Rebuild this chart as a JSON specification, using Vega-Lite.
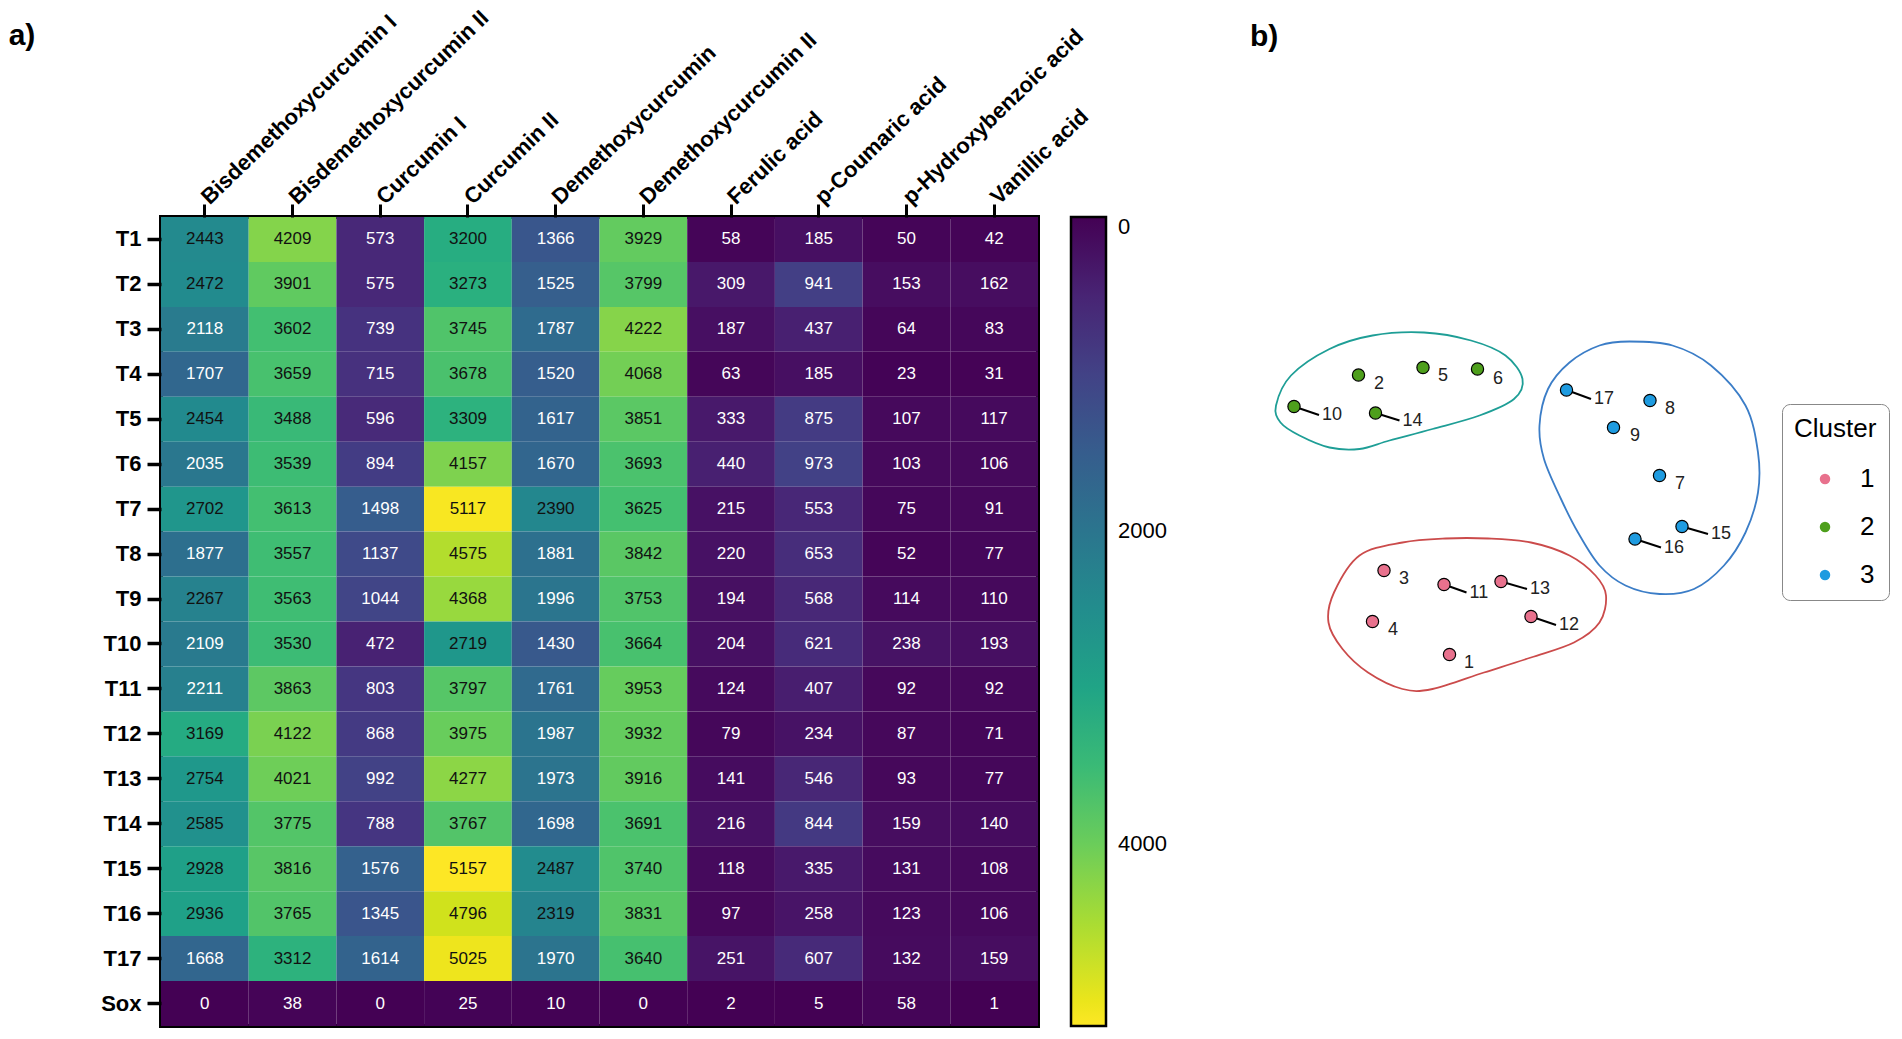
{
  "$schema": "https://vega.github.io/schema/vega-lite/v6.json",
  "padding": {"left": 6, "top": 4, "right": 0, "bottom": 0},
  "background": "white",
  "spacing": 32,
  "config": {"font": "Liberation Sans", "view": {"stroke": null}},
  "resolve": {"scale": {"color": "independent", "fill": "independent", "stroke": "independent"}, "legend": {"color": "independent", "fill": "independent", "stroke": "independent"}},
  "hconcat": [
    {
      "width": 877,
      "height": 809,
      "title": {"text": "a)", "anchor": "start", "frame": "bounds", "fontSize": 30, "fontWeight": "bold", "color": "black", "dx": -92, "dy": 45, "offset": 0},
      "view": {"stroke": "black", "strokeWidth": 4},
      "data": {"values": [
        {"sample":"T1","compound":"Bisdemethoxycurcumin I","value":2443},{"sample":"T1","compound":"Bisdemethoxycurcumin II","value":4209},{"sample":"T1","compound":"Curcumin I","value":573},{"sample":"T1","compound":"Curcumin II","value":3200},{"sample":"T1","compound":"Demethoxycurcumin","value":1366},{"sample":"T1","compound":"Demethoxycurcumin II","value":3929},{"sample":"T1","compound":"Ferulic acid","value":58},{"sample":"T1","compound":"p-Coumaric acid","value":185},{"sample":"T1","compound":"p-Hydroxybenzoic acid","value":50},{"sample":"T1","compound":"Vanillic acid","value":42},
        {"sample":"T2","compound":"Bisdemethoxycurcumin I","value":2472},{"sample":"T2","compound":"Bisdemethoxycurcumin II","value":3901},{"sample":"T2","compound":"Curcumin I","value":575},{"sample":"T2","compound":"Curcumin II","value":3273},{"sample":"T2","compound":"Demethoxycurcumin","value":1525},{"sample":"T2","compound":"Demethoxycurcumin II","value":3799},{"sample":"T2","compound":"Ferulic acid","value":309},{"sample":"T2","compound":"p-Coumaric acid","value":941},{"sample":"T2","compound":"p-Hydroxybenzoic acid","value":153},{"sample":"T2","compound":"Vanillic acid","value":162},
        {"sample":"T3","compound":"Bisdemethoxycurcumin I","value":2118},{"sample":"T3","compound":"Bisdemethoxycurcumin II","value":3602},{"sample":"T3","compound":"Curcumin I","value":739},{"sample":"T3","compound":"Curcumin II","value":3745},{"sample":"T3","compound":"Demethoxycurcumin","value":1787},{"sample":"T3","compound":"Demethoxycurcumin II","value":4222},{"sample":"T3","compound":"Ferulic acid","value":187},{"sample":"T3","compound":"p-Coumaric acid","value":437},{"sample":"T3","compound":"p-Hydroxybenzoic acid","value":64},{"sample":"T3","compound":"Vanillic acid","value":83},
        {"sample":"T4","compound":"Bisdemethoxycurcumin I","value":1707},{"sample":"T4","compound":"Bisdemethoxycurcumin II","value":3659},{"sample":"T4","compound":"Curcumin I","value":715},{"sample":"T4","compound":"Curcumin II","value":3678},{"sample":"T4","compound":"Demethoxycurcumin","value":1520},{"sample":"T4","compound":"Demethoxycurcumin II","value":4068},{"sample":"T4","compound":"Ferulic acid","value":63},{"sample":"T4","compound":"p-Coumaric acid","value":185},{"sample":"T4","compound":"p-Hydroxybenzoic acid","value":23},{"sample":"T4","compound":"Vanillic acid","value":31},
        {"sample":"T5","compound":"Bisdemethoxycurcumin I","value":2454},{"sample":"T5","compound":"Bisdemethoxycurcumin II","value":3488},{"sample":"T5","compound":"Curcumin I","value":596},{"sample":"T5","compound":"Curcumin II","value":3309},{"sample":"T5","compound":"Demethoxycurcumin","value":1617},{"sample":"T5","compound":"Demethoxycurcumin II","value":3851},{"sample":"T5","compound":"Ferulic acid","value":333},{"sample":"T5","compound":"p-Coumaric acid","value":875},{"sample":"T5","compound":"p-Hydroxybenzoic acid","value":107},{"sample":"T5","compound":"Vanillic acid","value":117},
        {"sample":"T6","compound":"Bisdemethoxycurcumin I","value":2035},{"sample":"T6","compound":"Bisdemethoxycurcumin II","value":3539},{"sample":"T6","compound":"Curcumin I","value":894},{"sample":"T6","compound":"Curcumin II","value":4157},{"sample":"T6","compound":"Demethoxycurcumin","value":1670},{"sample":"T6","compound":"Demethoxycurcumin II","value":3693},{"sample":"T6","compound":"Ferulic acid","value":440},{"sample":"T6","compound":"p-Coumaric acid","value":973},{"sample":"T6","compound":"p-Hydroxybenzoic acid","value":103},{"sample":"T6","compound":"Vanillic acid","value":106},
        {"sample":"T7","compound":"Bisdemethoxycurcumin I","value":2702},{"sample":"T7","compound":"Bisdemethoxycurcumin II","value":3613},{"sample":"T7","compound":"Curcumin I","value":1498},{"sample":"T7","compound":"Curcumin II","value":5117},{"sample":"T7","compound":"Demethoxycurcumin","value":2390},{"sample":"T7","compound":"Demethoxycurcumin II","value":3625},{"sample":"T7","compound":"Ferulic acid","value":215},{"sample":"T7","compound":"p-Coumaric acid","value":553},{"sample":"T7","compound":"p-Hydroxybenzoic acid","value":75},{"sample":"T7","compound":"Vanillic acid","value":91},
        {"sample":"T8","compound":"Bisdemethoxycurcumin I","value":1877},{"sample":"T8","compound":"Bisdemethoxycurcumin II","value":3557},{"sample":"T8","compound":"Curcumin I","value":1137},{"sample":"T8","compound":"Curcumin II","value":4575},{"sample":"T8","compound":"Demethoxycurcumin","value":1881},{"sample":"T8","compound":"Demethoxycurcumin II","value":3842},{"sample":"T8","compound":"Ferulic acid","value":220},{"sample":"T8","compound":"p-Coumaric acid","value":653},{"sample":"T8","compound":"p-Hydroxybenzoic acid","value":52},{"sample":"T8","compound":"Vanillic acid","value":77},
        {"sample":"T9","compound":"Bisdemethoxycurcumin I","value":2267},{"sample":"T9","compound":"Bisdemethoxycurcumin II","value":3563},{"sample":"T9","compound":"Curcumin I","value":1044},{"sample":"T9","compound":"Curcumin II","value":4368},{"sample":"T9","compound":"Demethoxycurcumin","value":1996},{"sample":"T9","compound":"Demethoxycurcumin II","value":3753},{"sample":"T9","compound":"Ferulic acid","value":194},{"sample":"T9","compound":"p-Coumaric acid","value":568},{"sample":"T9","compound":"p-Hydroxybenzoic acid","value":114},{"sample":"T9","compound":"Vanillic acid","value":110},
        {"sample":"T10","compound":"Bisdemethoxycurcumin I","value":2109},{"sample":"T10","compound":"Bisdemethoxycurcumin II","value":3530},{"sample":"T10","compound":"Curcumin I","value":472},{"sample":"T10","compound":"Curcumin II","value":2719},{"sample":"T10","compound":"Demethoxycurcumin","value":1430},{"sample":"T10","compound":"Demethoxycurcumin II","value":3664},{"sample":"T10","compound":"Ferulic acid","value":204},{"sample":"T10","compound":"p-Coumaric acid","value":621},{"sample":"T10","compound":"p-Hydroxybenzoic acid","value":238},{"sample":"T10","compound":"Vanillic acid","value":193},
        {"sample":"T11","compound":"Bisdemethoxycurcumin I","value":2211},{"sample":"T11","compound":"Bisdemethoxycurcumin II","value":3863},{"sample":"T11","compound":"Curcumin I","value":803},{"sample":"T11","compound":"Curcumin II","value":3797},{"sample":"T11","compound":"Demethoxycurcumin","value":1761},{"sample":"T11","compound":"Demethoxycurcumin II","value":3953},{"sample":"T11","compound":"Ferulic acid","value":124},{"sample":"T11","compound":"p-Coumaric acid","value":407},{"sample":"T11","compound":"p-Hydroxybenzoic acid","value":92},{"sample":"T11","compound":"Vanillic acid","value":92},
        {"sample":"T12","compound":"Bisdemethoxycurcumin I","value":3169},{"sample":"T12","compound":"Bisdemethoxycurcumin II","value":4122},{"sample":"T12","compound":"Curcumin I","value":868},{"sample":"T12","compound":"Curcumin II","value":3975},{"sample":"T12","compound":"Demethoxycurcumin","value":1987},{"sample":"T12","compound":"Demethoxycurcumin II","value":3932},{"sample":"T12","compound":"Ferulic acid","value":79},{"sample":"T12","compound":"p-Coumaric acid","value":234},{"sample":"T12","compound":"p-Hydroxybenzoic acid","value":87},{"sample":"T12","compound":"Vanillic acid","value":71},
        {"sample":"T13","compound":"Bisdemethoxycurcumin I","value":2754},{"sample":"T13","compound":"Bisdemethoxycurcumin II","value":4021},{"sample":"T13","compound":"Curcumin I","value":992},{"sample":"T13","compound":"Curcumin II","value":4277},{"sample":"T13","compound":"Demethoxycurcumin","value":1973},{"sample":"T13","compound":"Demethoxycurcumin II","value":3916},{"sample":"T13","compound":"Ferulic acid","value":141},{"sample":"T13","compound":"p-Coumaric acid","value":546},{"sample":"T13","compound":"p-Hydroxybenzoic acid","value":93},{"sample":"T13","compound":"Vanillic acid","value":77},
        {"sample":"T14","compound":"Bisdemethoxycurcumin I","value":2585},{"sample":"T14","compound":"Bisdemethoxycurcumin II","value":3775},{"sample":"T14","compound":"Curcumin I","value":788},{"sample":"T14","compound":"Curcumin II","value":3767},{"sample":"T14","compound":"Demethoxycurcumin","value":1698},{"sample":"T14","compound":"Demethoxycurcumin II","value":3691},{"sample":"T14","compound":"Ferulic acid","value":216},{"sample":"T14","compound":"p-Coumaric acid","value":844},{"sample":"T14","compound":"p-Hydroxybenzoic acid","value":159},{"sample":"T14","compound":"Vanillic acid","value":140},
        {"sample":"T15","compound":"Bisdemethoxycurcumin I","value":2928},{"sample":"T15","compound":"Bisdemethoxycurcumin II","value":3816},{"sample":"T15","compound":"Curcumin I","value":1576},{"sample":"T15","compound":"Curcumin II","value":5157},{"sample":"T15","compound":"Demethoxycurcumin","value":2487},{"sample":"T15","compound":"Demethoxycurcumin II","value":3740},{"sample":"T15","compound":"Ferulic acid","value":118},{"sample":"T15","compound":"p-Coumaric acid","value":335},{"sample":"T15","compound":"p-Hydroxybenzoic acid","value":131},{"sample":"T15","compound":"Vanillic acid","value":108},
        {"sample":"T16","compound":"Bisdemethoxycurcumin I","value":2936},{"sample":"T16","compound":"Bisdemethoxycurcumin II","value":3765},{"sample":"T16","compound":"Curcumin I","value":1345},{"sample":"T16","compound":"Curcumin II","value":4796},{"sample":"T16","compound":"Demethoxycurcumin","value":2319},{"sample":"T16","compound":"Demethoxycurcumin II","value":3831},{"sample":"T16","compound":"Ferulic acid","value":97},{"sample":"T16","compound":"p-Coumaric acid","value":258},{"sample":"T16","compound":"p-Hydroxybenzoic acid","value":123},{"sample":"T16","compound":"Vanillic acid","value":106},
        {"sample":"T17","compound":"Bisdemethoxycurcumin I","value":1668},{"sample":"T17","compound":"Bisdemethoxycurcumin II","value":3312},{"sample":"T17","compound":"Curcumin I","value":1614},{"sample":"T17","compound":"Curcumin II","value":5025},{"sample":"T17","compound":"Demethoxycurcumin","value":1970},{"sample":"T17","compound":"Demethoxycurcumin II","value":3640},{"sample":"T17","compound":"Ferulic acid","value":251},{"sample":"T17","compound":"p-Coumaric acid","value":607},{"sample":"T17","compound":"p-Hydroxybenzoic acid","value":132},{"sample":"T17","compound":"Vanillic acid","value":159},
        {"sample":"Sox","compound":"Bisdemethoxycurcumin I","value":0},{"sample":"Sox","compound":"Bisdemethoxycurcumin II","value":38},{"sample":"Sox","compound":"Curcumin I","value":0},{"sample":"Sox","compound":"Curcumin II","value":25},{"sample":"Sox","compound":"Demethoxycurcumin","value":10},{"sample":"Sox","compound":"Demethoxycurcumin II","value":0},{"sample":"Sox","compound":"Ferulic acid","value":2},{"sample":"Sox","compound":"p-Coumaric acid","value":5},{"sample":"Sox","compound":"p-Hydroxybenzoic acid","value":58},{"sample":"Sox","compound":"Vanillic acid","value":1}
      ]},
      "encoding": {
        "x": {"field": "compound", "type": "nominal", "sort": null, "title": null,
          "axis": {"orient": "top", "labelAngle": -44, "labelAlign": "left", "labelBaseline": "middle", "labelFontSize": 22, "labelFontWeight": "bold", "labelColor": "black", "labelPadding": 4, "tickSize": 13, "tickWidth": 3, "tickColor": "black", "domain": false, "labelLimit": 400}},
        "y": {"field": "sample", "type": "nominal", "sort": null, "title": null,
          "axis": {"labelFontSize": 22, "labelFontWeight": "bold", "labelColor": "black", "labelPadding": 6, "tickSize": 14, "tickWidth": 3.5, "tickColor": "black", "domain": false}}
      },
      "layer": [
        {"mark": {"type": "rect"},
         "encoding": {"color": {"field": "value", "type": "quantitative",
           "scale": {"scheme": "viridis", "domain": [5157, 0], "reverse": true, "nice": false},
           "legend": {"title": null, "orient": "right", "offset": 33, "direction": "vertical", "gradientLength": 809, "gradientThickness": 35, "gradientStrokeColor": "black", "gradientStrokeWidth": 2.5, "values": [0, 2000, 4000], "format": "d", "labelFontSize": 22, "labelColor": "black", "labelOffset": 12, "labelBaseline": "middle", "labelOverlap": false}}}},
        {"mark": {"type": "text", "fontSize": 17},
         "encoding": {"text": {"field": "value", "type": "quantitative", "format": "d"},
           "color": {"condition": {"test": "datum.value >= 2240", "value": "#111111"}, "value": "white"}}}
      ]
    },
    {
      "width": 560,
      "height": 809,
      "title": {"text": "b)", "anchor": "start", "frame": "group", "fontSize": 30, "fontWeight": "bold", "color": "black", "dx": 49, "dy": -165, "offset": 0},
      "layer": [
        {
          "data": {"values": [
            {"hull":"H2","k":1,"hx":-4.50,"hy":1.87},{"hull":"H2","k":2,"hx":-4.20,"hy":2.47},{"hull":"H2","k":3,"hx":-3.43,"hy":3.00},{"hull":"H2","k":4,"hx":-2.57,"hy":3.27},{"hull":"H2","k":5,"hx":-1.54,"hy":3.33},{"hull":"H2","k":6,"hx":-0.60,"hy":3.17},{"hull":"H2","k":7,"hx":0.09,"hy":2.87},{"hull":"H2","k":8,"hx":0.43,"hy":2.40},{"hull":"H2","k":9,"hx":0.26,"hy":2.00},{"hull":"H2","k":10,"hx":-0.43,"hy":1.67},{"hull":"H2","k":11,"hx":-1.37,"hy":1.40},{"hull":"H2","k":12,"hx":-2.23,"hy":1.17},{"hull":"H2","k":13,"hx":-2.83,"hy":1.00},{"hull":"H2","k":14,"hx":-3.43,"hy":1.03},{"hull":"H2","k":15,"hx":-4.03,"hy":1.27},{"hull":"H2","k":16,"hx":-4.41,"hy":1.53},
            {"hull":"H3","k":1,"hx":2.57,"hy":3.15},{"hull":"H3","k":2,"hx":3.43,"hy":3.07},{"hull":"H3","k":3,"hx":4.20,"hy":2.67},{"hull":"H3","k":4,"hx":4.89,"hy":1.87},{"hull":"H3","k":5,"hx":5.14,"hy":0.93},{"hull":"H3","k":6,"hx":5.14,"hy":0.13},{"hull":"H3","k":7,"hx":4.89,"hy":-0.67},{"hull":"H3","k":8,"hx":4.46,"hy":-1.33},{"hull":"H3","k":9,"hx":3.86,"hy":-1.80},{"hull":"H3","k":10,"hx":3.17,"hy":-1.90},{"hull":"H3","k":11,"hx":2.49,"hy":-1.73},{"hull":"H3","k":12,"hx":1.97,"hy":-1.33},{"hull":"H3","k":13,"hx":1.54,"hy":-0.67},{"hull":"H3","k":14,"hx":1.20,"hy":0.00},{"hull":"H3","k":15,"hx":0.86,"hy":0.80},{"hull":"H3","k":16,"hx":0.77,"hy":1.47},{"hull":"H3","k":17,"hx":0.94,"hy":2.20},{"hull":"H3","k":18,"hx":1.37,"hy":2.73},{"hull":"H3","k":19,"hx":1.97,"hy":3.07},
            {"hull":"H1","k":1,"hx":-2.83,"hy":-1.13},{"hull":"H1","k":2,"hx":-1.97,"hy":-0.87},{"hull":"H1","k":3,"hx":-1.11,"hy":-0.79},{"hull":"H1","k":4,"hx":-0.26,"hy":-0.79},{"hull":"H1","k":5,"hx":0.60,"hy":-0.87},{"hull":"H1","k":6,"hx":1.37,"hy":-1.13},{"hull":"H1","k":7,"hx":1.89,"hy":-1.53},{"hull":"H1","k":8,"hx":2.10,"hy":-1.93},{"hull":"H1","k":9,"hx":1.97,"hy":-2.47},{"hull":"H1","k":10,"hx":1.46,"hy":-2.87},{"hull":"H1","k":11,"hx":0.60,"hy":-3.17},{"hull":"H1","k":12,"hx":-0.34,"hy":-3.47},{"hull":"H1","k":13,"hx":-1.37,"hy":-3.80},{"hull":"H1","k":14,"hx":-1.97,"hy":-3.80},{"hull":"H1","k":15,"hx":-2.66,"hy":-3.47},{"hull":"H1","k":16,"hx":-3.17,"hy":-3.00},{"hull":"H1","k":17,"hx":-3.45,"hy":-2.47},{"hull":"H1","k":18,"hx":-3.34,"hy":-1.87}
          ]},
          "mark": {"type": "line", "interpolate": "cardinal-closed", "strokeWidth": 1.8},
          "encoding": {
            "x": {"field": "hx", "type": "quantitative", "scale": {"domain": [-6, 5.2], "nice": false, "zero": false}, "axis": null},
            "y": {"field": "hy", "type": "quantitative", "scale": {"domain": [-10.54, 5.64], "nice": false, "zero": false}, "axis": null},
            "stroke": {"field": "hull", "type": "nominal", "scale": {"domain": ["H1", "H2", "H3"], "range": ["#CB4B4B", "#1E9E96", "#3B7DC7"]}, "legend": null},
            "order": {"field": "k", "type": "quantitative"}
          }
        },
        {
          "data": {"name": "pts"},
          "transform": [{"filter": "datum.leader"}],
          "mark": {"type": "rule", "color": "black", "strokeWidth": 2},
          "encoding": {
            "x": {"field": "Dim1", "type": "quantitative"},
            "y": {"field": "Dim2", "type": "quantitative"},
            "x2": {"field": "lx"},
            "y2": {"field": "ly"}
          }
        },
        {
          "data": {"name": "pts"},
          "mark": {"type": "point", "shape": "circle", "filled": true, "size": 150, "stroke": "black", "strokeWidth": 1.2, "opacity": 1},
          "encoding": {
            "x": {"field": "Dim1", "type": "quantitative"},
            "y": {"field": "Dim2", "type": "quantitative"},
            "fill": {"field": "cluster", "type": "nominal", "scale": {"domain": ["1", "2", "3"], "range": ["#E8718D", "#4E9F1C", "#1E9BE0"]},
              "legend": {"title": "Cluster", "orient": "none", "legendX": 581, "legendY": 187, "titleFontSize": 26, "titleFontWeight": "normal", "titleColor": "black", "titlePadding": 24, "labelFontSize": 26, "labelColor": "black", "labelOffset": 22, "symbolSize": 110, "symbolStrokeWidth": 0, "symbolOffset": 18, "rowPadding": 22, "padding": 12, "strokeColor": "#888888", "cornerRadius": 8, "fillColor": "white"}}
          }
        },
        {
          "data": {"name": "pts"},
          "mark": {"type": "text", "align": "left", "baseline": "middle", "dx": 3, "fontSize": 18, "color": "#222222"},
          "encoding": {
            "x": {"field": "lx", "type": "quantitative"},
            "y": {"field": "ly", "type": "quantitative"},
            "text": {"field": "id"}
          }
        }
      ]
    }
  ],
  "datasets": {
    "pts": [
      {"id":"1","cluster":"1","Dim1":-1.03,"Dim2":-3.11,"lx":-0.80,"ly":-3.27,"leader":false},
      {"id":"2","cluster":"2","Dim1":-2.85,"Dim2":2.48,"lx":-2.60,"ly":2.30,"leader":false},
      {"id":"3","cluster":"1","Dim1":-2.34,"Dim2":-1.43,"lx":-2.10,"ly":-1.60,"leader":false},
      {"id":"4","cluster":"1","Dim1":-2.57,"Dim2":-2.45,"lx":-2.32,"ly":-2.62,"leader":false},
      {"id":"5","cluster":"2","Dim1":-1.56,"Dim2":2.63,"lx":-1.32,"ly":2.47,"leader":false},
      {"id":"6","cluster":"2","Dim1":-0.47,"Dim2":2.60,"lx":-0.22,"ly":2.41,"leader":false},
      {"id":"7","cluster":"3","Dim1":3.17,"Dim2":0.47,"lx":3.42,"ly":0.30,"leader":false},
      {"id":"8","cluster":"3","Dim1":2.98,"Dim2":1.97,"lx":3.22,"ly":1.80,"leader":false},
      {"id":"9","cluster":"3","Dim1":2.25,"Dim2":1.43,"lx":2.52,"ly":1.27,"leader":false},
      {"id":"10","cluster":"2","Dim1":-4.14,"Dim2":1.85,"lx":-3.64,"ly":1.68,"leader":true},
      {"id":"11","cluster":"1","Dim1":-1.14,"Dim2":-1.71,"lx":-0.69,"ly":-1.87,"leader":true},
      {"id":"12","cluster":"1","Dim1":0.60,"Dim2":-2.35,"lx":1.10,"ly":-2.52,"leader":true},
      {"id":"13","cluster":"1","Dim1":0.00,"Dim2":-1.65,"lx":0.52,"ly":-1.80,"leader":true},
      {"id":"14","cluster":"2","Dim1":-2.51,"Dim2":1.72,"lx":-2.03,"ly":1.57,"leader":true},
      {"id":"15","cluster":"3","Dim1":3.62,"Dim2":-0.55,"lx":4.14,"ly":-0.70,"leader":true},
      {"id":"16","cluster":"3","Dim1":2.68,"Dim2":-0.80,"lx":3.20,"ly":-0.97,"leader":true},
      {"id":"17","cluster":"3","Dim1":1.31,"Dim2":2.18,"lx":1.80,"ly":2.00,"leader":true}
    ]
  }
}
